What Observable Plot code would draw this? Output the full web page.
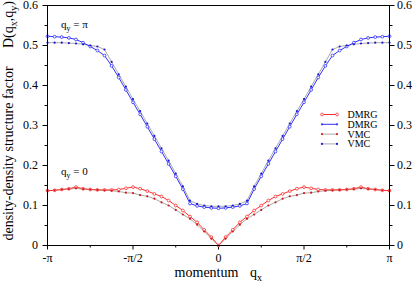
<!DOCTYPE html>
<html>
<head>
<meta charset="utf-8">
<script src="https://cdn.jsdelivr.net/npm/d3@7"></script>
<script src="https://cdn.jsdelivr.net/npm/@observablehq/plot@0.6"></script>
<style>
  html, body { margin: 0; padding: 0; background: white; }
  #chart { width: 415px; height: 282px; position: relative; }
</style>
</head>
<body>
<div id="chart"></div>
<script>
const pi = Math.PI;
// lattice momenta q_x = n*pi/24, n = -24..24
const nIndex = d3.range(-24, 25);
const qx = nIndex.map(k => k * pi / 24);

// D(q_x, q_y = pi)
const dmrgPi = [0.523,0.522,0.521,0.519,0.515,0.507,0.4975,0.4875,0.475,0.449,0.420,0.389,0.358,0.328,0.297,0.266,0.235,0.204,0.173,0.141,0.105,0.099,0.096,0.094,0.093,
                0.094,0.096,0.099,0.105,0.141,0.173,0.204,0.235,0.266,0.297,0.328,0.358,0.389,0.420,0.449,0.475,0.4875,0.4975,0.507,0.515,0.519,0.521,0.522,0.523];
const vmcPi  = [0.507,0.507,0.507,0.506,0.505,0.503,0.500,0.4975,0.490,0.459,0.428,0.397,0.366,0.336,0.305,0.274,0.243,0.212,0.180,0.148,0.112,0.104,0.100,0.098,0.098,
                0.098,0.100,0.104,0.112,0.148,0.180,0.212,0.243,0.274,0.305,0.336,0.366,0.397,0.428,0.459,0.490,0.4975,0.500,0.503,0.505,0.506,0.507,0.507,0.507];
// D(q_x, q_y = 0)
const dmrg0  = [0.137,0.138,0.140,0.142,0.146,0.142,0.140,0.139,0.139,0.139,0.140,0.143,0.146,0.142,0.136,0.129,0.1225,0.1125,0.100,0.0875,0.0725,0.058,0.039,0.021,0.000,
                0.021,0.039,0.058,0.0725,0.0875,0.100,0.1125,0.1225,0.129,0.136,0.142,0.146,0.143,0.140,0.139,0.139,0.139,0.140,0.142,0.146,0.142,0.140,0.138,0.137];
const vmc0   = [0.137,0.138,0.140,0.141,0.143,0.141,0.140,0.139,0.138,0.137,0.135,0.132,0.131,0.126,0.123,0.117,0.108,0.100,0.089,0.0775,0.0667,0.052,0.035,0.017,0.000,
                0.017,0.035,0.052,0.0667,0.0775,0.089,0.100,0.108,0.117,0.123,0.126,0.131,0.132,0.135,0.137,0.138,0.139,0.140,0.141,0.143,0.141,0.140,0.138,0.137];

const xMajor = [-pi, -pi/2, 0, pi/2, pi];
const xTickLabels = ["-π", "-π/2", "0", "π/2", "π"];
const xMinor = [-3*pi/4, -pi/4, pi/4, 3*pi/4];
const yMajor = [0, 0.1, 0.2, 0.3, 0.4, 0.5, 0.6];
const yTickLabels = ["0", "0.1", "0.2", "0.3", "0.4", "0.5", "0.6"];
const yMinor = [0.05, 0.15, 0.25, 0.35, 0.45, 0.55];
const legendLabels = ["DMRG", "DMRG", "VMC", "VMC"];

const RED = "#ff3030", BLUE = "#3030ff", DRED = "#d01818", DBLUE = "#1818d0", GRAY = "#aaaaaa";

const rows = [];
const series = [
  {key: "vmcPi", vals: vmcPi}, {key: "vmc0", vals: vmc0},
  {key: "dmrgPi", vals: dmrgPi}, {key: "dmrg0", vals: dmrg0}
];
for (const s of series) qx.forEach((q, i) => rows.push({q, v: s.vals[i], s: s.key}));
const sel = k => rows.filter(r => r.s === k);

const xFmt = d => xTickLabels[xMajor.indexOf(d)];
const yFmt = d => yTickLabels[yMajor.indexOf(d)];

const plot = Plot.plot({
  width: 415, height: 282,
  marginLeft: 47, marginRight: 26, marginTop: 5, marginBottom: 37,
  x: {domain: [-pi, pi]},
  y: {domain: [0, 0.6]},
  style: {fontFamily: "'Liberation Serif', serif", fontSize: "12px", background: "white", color: "black"},
  marks: [
    Plot.axisX({ticks: xMajor, tickFormat: xFmt, tickSize: 4.5, tickPadding: 3, label: null, fontSize: 12}),
    Plot.axisX({ticks: xMinor, tickFormat: () => "", tickSize: 2.5, label: null}),
    Plot.axisY({anchor: "left", ticks: yMajor, tickFormat: yFmt, tickSize: 4.5, tickPadding: 5, label: null, fontSize: 12}),
    Plot.axisY({anchor: "left", ticks: yMinor, tickFormat: () => "", tickSize: 2.5, label: null}),
    Plot.axisY({anchor: "right", ticks: yMajor, tickFormat: yFmt, tickSize: 4.5, tickPadding: 3, label: null, fontSize: 12}),
    Plot.axisY({anchor: "right", ticks: yMinor, tickFormat: () => "", tickSize: 2.5, label: null}),
    Plot.line(sel("vmcPi"), {x: "q", y: "v", stroke: GRAY, strokeWidth: 1}),
    Plot.line(sel("vmc0"), {x: "q", y: "v", stroke: GRAY, strokeWidth: 1}),
    Plot.line(sel("dmrgPi"), {x: "q", y: "v", stroke: BLUE, strokeWidth: 1}),
    Plot.line(sel("dmrg0"), {x: "q", y: "v", stroke: RED, strokeWidth: 1}),
    Plot.dot(sel("dmrgPi"), {x: "q", y: "v", r: 1.4, stroke: BLUE, fill: "white", strokeWidth: 0.8}),
    Plot.dot(sel("dmrg0"), {x: "q", y: "v", r: 1.4, stroke: RED, fill: "white", strokeWidth: 0.8}),
    Plot.dot(sel("vmcPi"), {x: "q", y: "v", r: 1.1, fill: DBLUE}),
    Plot.dot(sel("vmc0"), {x: "q", y: "v", r: 1.1, fill: DRED}),
    Plot.frame({stroke: "black", strokeWidth: 1})
  ]
});
document.getElementById("chart").appendChild(plot);

// annotations, axis labels, legend
const svg = d3.select(plot);
const FF = "'Liberation Serif', serif";
function subText(g, x, y, parts, size, anchor) {
  const t = g.append("text").attr("x", x).attr("y", y).attr("font-family", FF)
    .attr("font-size", size).attr("fill", "black").attr("text-anchor", anchor || "start");
  let inSub = false;
  for (const [txt, isSub] of parts) {
    if (isSub) { t.append("tspan").attr("dy", size * 0.3).attr("font-size", size * 0.72).text(txt); inSub = true; }
    else { t.append("tspan").attr("dy", inSub ? -size * 0.3 : 0).text(txt); inSub = false; }
  }
  return t;
}
const g = svg.append("g");
subText(g, 61, 28, [["q", false], ["y", true], [" = π", false]], 11);
subText(g, 61, 175, [["q", false], ["y", true], [" = 0", false]], 11);
g.append("text").attr("x", 206.5).attr("y", 277).attr("font-family", FF).attr("font-size", 14)
  .attr("text-anchor", "middle").text("momentum");
subText(g, 250, 277, [["q", false], ["x", true]], 14);
const gy = g.append("g").attr("transform", "translate(12.7,0) rotate(-90)");
gy.append("text").attr("x", -153.5).attr("y", 0).attr("font-family", FF).attr("font-size", 14)
  .attr("text-anchor", "middle").text("density-density structure factor");
subText(gy, -24.5, 0, [["D(q", false], ["x", true], [",q", false], ["y", true], [")", false]], 14, "middle");

// legend
const legendStyles = [
  {line: RED, mark: RED, open: true},
  {line: BLUE, mark: BLUE, open: false},
  {line: GRAY, mark: DRED, open: false},
  {line: GRAY, mark: DBLUE, open: false}
];
const lg = g.append("g");
legendLabels.forEach((lab, i) => {
  const cy = 114.5 + i * 9.8;
  const st = legendStyles[i];
  lg.append("line").attr("x1", 322).attr("x2", 337).attr("y1", cy).attr("y2", cy).attr("stroke", st.line).attr("stroke-width", 1);
  for (const cx of [322, 337]) {
    lg.append("circle").attr("cx", cx).attr("cy", cy).attr("r", st.open ? 1.4 : 1.1)
      .attr("fill", st.open ? "white" : st.mark).attr("stroke", st.open ? st.mark : "none").attr("stroke-width", 0.8);
  }
  lg.append("text").attr("x", 347.5).attr("y", cy + 3.5).attr("font-family", FF).attr("font-size", 10)
    .attr("text-anchor", "start").attr("fill", "black").text(lab);
});
</script>
</body>
</html>
